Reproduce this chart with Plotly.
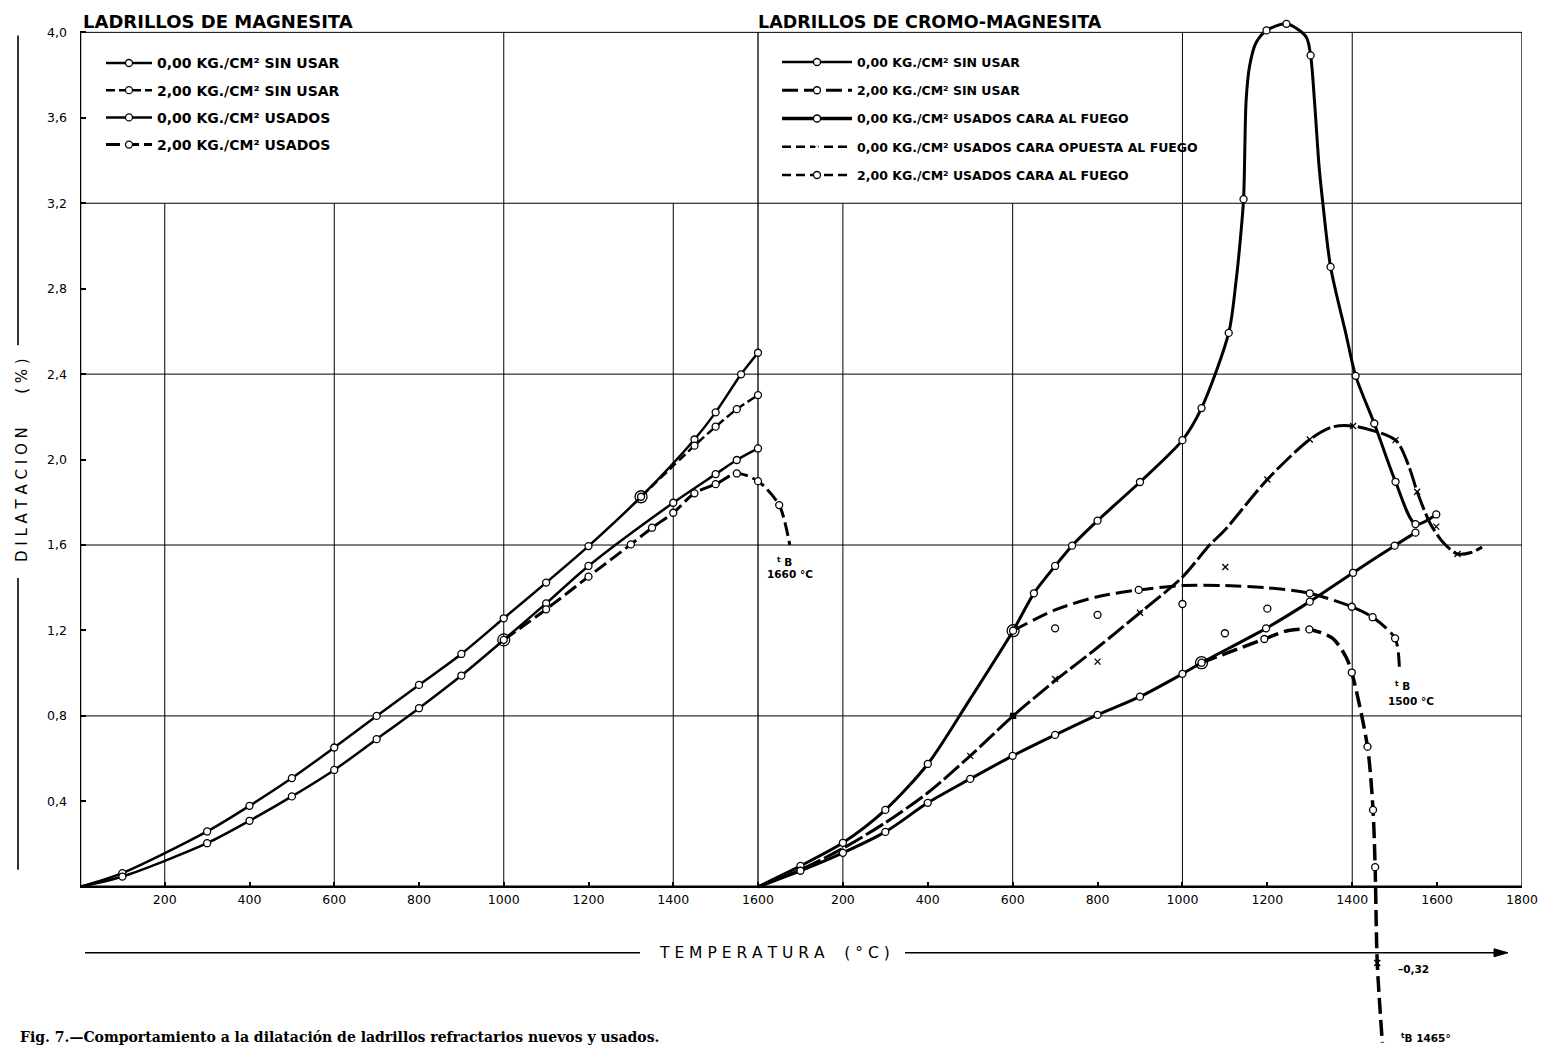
import plotly.graph_objects as go

# ================= DATA =================
# ---- Left panel: LADRILLOS DE MAGNESITA (temperature °C, dilatation %) ----
mag_sin_T = [0, 100, 300, 400, 500, 600, 700, 800, 900, 1000, 1100, 1200, 1324]
mag_sin_v = [0, 0.064, 0.259, 0.379, 0.509, 0.652, 0.80, 0.945, 1.09, 1.257, 1.424, 1.595, 1.826]
mag_sin0_T = [1450, 1500, 1560, 1600]
mag_sin0_v = [2.094, 2.221, 2.399, 2.50]
mag_sin2_T = [1450, 1500, 1550, 1600]
mag_sin2_v = [2.065, 2.154, 2.236, 2.302]
mag_us_T = [0, 100, 300, 400, 500, 600, 700, 800, 900, 1000]
mag_us_v = [0, 0.048, 0.204, 0.309, 0.423, 0.547, 0.691, 0.836, 0.989, 1.156]
mag_us0_T = [1100, 1200, 1400, 1500, 1550, 1600]
mag_us0_v = [1.327, 1.502, 1.798, 1.932, 1.998, 2.052]
mag_us2_T = [1100, 1200, 1300, 1350, 1400, 1450, 1500, 1550, 1600, 1650]
mag_us2_v = [1.299, 1.452, 1.603, 1.681, 1.751, 1.842, 1.885, 1.935, 1.899, 1.787]
mag_us2_tB_T = [1675]
mag_us2_tB_v = [1.60]

# ---- Right panel: LADRILLOS DE CROMO-MAGNESITA ----
# 0,00 kg/cm2 sin usar : measured points and drawn curve
crm_sin0_pts_T = [100, 200, 300, 400, 601, 650, 700, 740, 800, 900, 1000, 1045, 1109, 1144, 1198,
                  1245, 1302, 1349, 1408, 1452, 1502, 1549, 1598]
crm_sin0_pts_v = [0.098, 0.206, 0.36, 0.575, 1.199, 1.374, 1.502, 1.597, 1.714, 1.895, 2.091, 2.241,
                  2.593, 3.219, 4.009, 4.04, 3.892, 2.902, 2.392, 2.169, 1.896, 1.698, 1.743]
crm_sin0_crv_T = [0, 100, 200, 300, 400, 500, 601, 650, 700, 740, 800, 900, 1000, 1045, 1109, 1126,
                  1134, 1144, 1150, 1158, 1173, 1198, 1245, 1291, 1302, 1311, 1322, 1330, 1349, 1385,
                  1408, 1452, 1502, 1549, 1598]
crm_sin0_crv_v = [0, 0.098, 0.206, 0.36, 0.575, 0.88, 1.199, 1.374, 1.502, 1.597, 1.714, 1.895, 2.091,
                  2.241, 2.593, 2.83, 2.98, 3.219, 3.68, 3.84, 3.95, 4.009, 4.04, 3.98, 3.892, 3.68,
                  3.37, 3.214, 2.902, 2.59, 2.392, 2.169, 1.896, 1.698, 1.743]
# 2,00 kg/cm2 sin usar
crm_sin2_pts_T = [897, 1300, 1399, 1448, 1501]
crm_sin2_pts_v = [1.39, 1.374, 1.311, 1.262, 1.163]
crm_sin2_crv_T = [601, 700, 800, 897, 1000, 1100, 1200, 1300, 1399, 1448, 1501, 1511]
crm_sin2_crv_v = [1.199, 1.296, 1.358, 1.39, 1.41, 1.41, 1.40, 1.374, 1.311, 1.262, 1.163, 1.03]
crm_loose_T = [700, 800, 1000, 1100, 1200]
crm_loose_v = [1.21, 1.273, 1.324, 1.187, 1.302]
# 0,00 kg/cm2 usados cara al fuego
crm_us0_pts_T = [100, 200, 300, 400, 500, 600, 700, 800, 900, 1000, 1045, 1197, 1300, 1402, 1500, 1549]
crm_us0_pts_v = [0.075, 0.159, 0.257, 0.393, 0.505, 0.613, 0.711, 0.805, 0.89, 0.997, 1.049, 1.21,
                 1.335, 1.47, 1.597, 1.658]
# 0,00 kg/cm2 usados cara opuesta al fuego
crm_opp_pts_T = [500, 700, 800, 900, 1200, 1300, 1402, 1502, 1553, 1598, 1648]
crm_opp_pts_v = [0.613, 0.973, 1.054, 1.283, 1.907, 2.094, 2.157, 2.091, 1.849, 1.686, 1.558]
crm_opp_loose_T = [1101]
crm_opp_loose_v = [1.497]
crm_opp_dot_T = [601]
crm_opp_dot_v = [0.80]
crm_opp_crv_T = [0, 100, 200, 300, 400, 500, 601, 700, 800, 900, 1000, 1064, 1100, 1200, 1300, 1354,
                 1402, 1502, 1534, 1553, 1584, 1616, 1648, 1680, 1706]
crm_opp_crv_v = [0, 0.08, 0.18, 0.30, 0.44, 0.613, 0.80, 0.965, 1.12, 1.283, 1.45, 1.60, 1.67, 1.907,
                 2.094, 2.153, 2.157, 2.091, 1.966, 1.849, 1.70, 1.608, 1.558, 1.565, 1.59]
# 2,00 kg/cm2 usados cara al fuego
crm_us2_pts_T = [1193, 1299, 1399, 1436, 1449, 1454]
crm_us2_pts_v = [1.16, 1.205, 1.003, 0.656, 0.36, 0.092]
crm_us2_crv_T = [1045, 1193, 1250, 1299, 1354, 1385, 1399, 1436, 1449, 1454, 1459, 1471]
crm_us2_crv_v = [1.049, 1.16, 1.20, 1.205, 1.163, 1.077, 1.003, 0.656, 0.36, 0.092, -0.357, -0.73]
crm_us2_min_T = [1459]
crm_us2_min_v = [-0.357]

# tick labels
x_left_ticks = [200, 400, 600, 800, 1000, 1200, 1400, 1600]
x_right_ticks = [200, 400, 600, 800, 1000, 1200, 1400, 1600, 1800]
y_ticks = [0.4, 0.8, 1.2, 1.6, 2.0, 2.4, 2.8, 3.2, 3.6, 4.0]
y_ticktext = ["0,4", "0,8", "1,2", "1,6", "2,0", "2,4", "2,8", "3,2", "3,6", "4,0"]

legend_left = ["0,00 KG./CM² SIN USAR", "2,00 KG./CM² SIN USAR",
               "0,00 KG./CM² USADOS", "2,00 KG./CM² USADOS"]
legend_right = ["0,00 KG./CM² SIN USAR", "2,00 KG./CM² SIN USAR",
                "0,00 KG./CM² USADOS CARA AL FUEGO",
                "0,00 KG./CM² USADOS CARA OPUESTA AL FUEGO",
                "2,00 KG./CM² USADOS CARA AL FUEGO"]

# ================= FIGURE =================
YMIN, YMAX = -0.75, 4.1
OFF = 8                      # page body margin
W, H = 1539, 1048
ML, MR, MT, MB = 72, 25, 2.6, 8.7
PW, PH = W - ML - MR, H - MT - MB

fig = go.Figure()


def curve(xs, ys, xa, width=2.5, dash="solid"):
    fig.add_trace(go.Scatter(x=xs, y=ys, xaxis=xa, yaxis="y", mode="lines",
                             line=dict(color="black", width=width, dash=dash,
                                       shape="spline", smoothing=0.8),
                             showlegend=False, hoverinfo="skip"))


def points(xs, ys, xa, symbol="circle", size=7, color="white"):
    fig.add_trace(go.Scatter(x=xs, y=ys, xaxis=xa, yaxis="y", mode="markers",
                             marker=dict(symbol=symbol, size=size, color=color,
                                         line=dict(color="black", width=1.3)),
                             showlegend=False, hoverinfo="skip", cliponaxis=False))


DASH_A = "9px,4px"
DASH_B = "14px,5px"
DASH_C = "16px,6px"
DASH_X = "20px,4px"

# ---- left panel ----
curve(mag_sin_T + mag_sin0_T, mag_sin_v + mag_sin0_v, "x", 2.5)
curve(mag_sin_T[-1:] + mag_sin2_T, mag_sin_v[-1:] + mag_sin2_v, "x", 2.5, DASH_A)
curve(mag_us_T + mag_us0_T, mag_us_v + mag_us0_v, "x", 2.5)
curve(mag_us_T[-1:] + mag_us2_T + mag_us2_tB_T, mag_us_v[-1:] + mag_us2_v + mag_us2_tB_v, "x", 3, DASH_B)
points(mag_sin_T[1:] + mag_sin0_T + mag_sin2_T, mag_sin_v[1:] + mag_sin0_v + mag_sin2_v, "x")
points(mag_us_T[1:] + mag_us0_T + mag_us2_T, mag_us_v[1:] + mag_us0_v + mag_us2_v, "x")
points(mag_sin_T[-1:] + mag_us_T[-1:], mag_sin_v[-1:] + mag_us_v[-1:], "x", "circle-open", 12, "black")

# ---- right panel ----
curve(crm_sin0_crv_T, crm_sin0_crv_v, "x2", 3)
curve(crm_sin2_crv_T, crm_sin2_crv_v, "x2", 3, DASH_C)
curve([0] + crm_us0_pts_T, [0] + crm_us0_pts_v, "x2", 3)
curve(crm_opp_crv_T, crm_opp_crv_v, "x2", 3, DASH_X)
curve(crm_us2_crv_T, crm_us2_crv_v, "x2", 3.5, DASH_C)
points(crm_sin0_pts_T, crm_sin0_pts_v, "x2")
points(crm_sin2_pts_T + crm_loose_T, crm_sin2_pts_v + crm_loose_v, "x2")
points(crm_us0_pts_T, crm_us0_pts_v, "x2")
points(crm_us2_pts_T, crm_us2_pts_v, "x2")
points(crm_opp_pts_T + crm_opp_loose_T + crm_us2_min_T, crm_opp_pts_v + crm_opp_loose_v + crm_us2_min_v,
       "x2", "x-thin-open", 6, "black")
points(crm_opp_dot_T, crm_opp_dot_v, "x2", "square", 5, "black")
points([crm_sin0_pts_T[4], crm_us0_pts_T[10]], [crm_sin0_pts_v[4], crm_us0_pts_v[10]],
       "x2", "circle-open", 12, "black")

# ---- legend entries ----
leg_styles_left = [(2.5, "solid", "circle"), (2.5, DASH_A, "circle"),
                   (2.5, "solid", "circle"), (3, DASH_B, "circle")]
leg_styles_right = [(2.5, "solid", "circle"), (3, DASH_C, "circle"), (3.5, "solid", "circle"),
                    (2.5, "9px,5px", "x-thin-open"), (2.5, "9px,5px", "circle")]
for name, (w, d, s) in zip(legend_left, leg_styles_left):
    fig.add_trace(go.Scatter(x=[None], y=[None], mode="lines+markers", name=name, legend="legend",
                             legendgroup="L" + name,
                             line=dict(color="black", width=w, dash=d),
                             marker=dict(symbol=s, size=7, color="white",
                                         line=dict(color="black", width=1.3))))
for name, (w, d, s) in zip(legend_right, leg_styles_right):
    fig.add_trace(go.Scatter(x=[None], y=[None], xaxis="x2", mode="lines+markers", name=name,
                             legend="legend2", legendgroup="R" + name,
                             line=dict(color="black", width=w, dash=d),
                             marker=dict(symbol=s, size=7, color="white",
                                         line=dict(color="black", width=1.3))))

# ---- grid / frame shapes ----
shapes = []


def seg(xref, x0, x1, y0, y1, w=1.0):
    shapes.append(dict(type="line", xref=xref, yref="y", x0=x0, x1=x1, y0=y0, y1=y1,
                       line=dict(color="black", width=w), layer="below"))


for yv in [0.8, 1.6, 2.4, 3.2, 4.0]:
    seg("x", 0, 1600, yv, yv, 1.0)
    seg("x2", 0, 1800, yv, yv, 1.0)
for xv in [200, 600, 1400]:
    seg("x", xv, xv, 0, 3.2)
for xv in [200, 600]:
    seg("x2", xv, xv, 0, 3.2)
seg("x", 1000, 1000, 0, 4.0)
seg("x2", 1000, 1000, 0, 4.0)
seg("x2", 1400, 1400, 0, 4.0)
seg("x2", 1800, 1800, 0, 4.0, 1.3)
seg("x", 1600, 1600, 0, 4.0, 1.3)
seg("x", 0, 0, 0, 4.0, 2.5)
seg("x", 0, 1600, 0, 0, 2.5)
seg("x2", 0, 1800, 0, 0, 2.5)


def px(xv):
    return (xv - OFF - ML) / PW


def py(yv):
    return (H - MB - (yv - OFF)) / PH


def pline(x0, y0, x1, y1, w=1.6):
    shapes.append(dict(type="line", xref="paper", yref="paper", x0=x0, x1=x1, y0=y0, y1=y1,
                       line=dict(color="black", width=w)))


pline(px(85), py(953), px(640), py(953))
pline(px(905), py(953), px(1500), py(953))
shapes.append(dict(type="path", xref="paper", yref="paper",
                   path=f"M {px(1494)} {py(949)} L {px(1508)} {py(953)} L {px(1494)} {py(957)} Z",
                   fillcolor="black", line=dict(color="black", width=1)))
pline(px(18), py(35), px(18), py(345))
pline(px(18), py(578), px(18), py(870))

y0_pos = (0 - YMIN) / (YMAX - YMIN)
left_end = 0.42375 * 1800 / PW
right_start = 678 / PW

tickfont = dict(family="DejaVu Sans", size=12.5, color="black")
fig.update_layout(
    width=W, height=H,
    margin=dict(l=ML, r=MR, t=MT, b=MB, autoexpand=False),
    paper_bgcolor="white", plot_bgcolor="rgba(0,0,0,0)",
    shapes=shapes,
    xaxis=dict(domain=[0, left_end], range=[0, 1800], anchor="free", position=y0_pos,
               showgrid=False, zeroline=False, showline=False,
               tickvals=x_left_ticks, ticktext=[str(t) for t in x_left_ticks],
               ticks="inside", ticklen=5, tickwidth=1.5, tickcolor="black",
               tickfont=tickfont, ticklabelstandoff=4),
    xaxis2=dict(domain=[right_start, 1], range=[0, 1800], anchor="free", position=y0_pos,
                showgrid=False, zeroline=False, showline=False,
                tickvals=x_right_ticks, ticktext=[str(t) for t in x_right_ticks],
                ticks="inside", ticklen=5, tickwidth=1.5, tickcolor="black",
                tickfont=tickfont, ticklabelstandoff=4),
    yaxis=dict(domain=[0, 1], range=[YMIN, YMAX], anchor="x",
               showgrid=False, zeroline=False, showline=False,
               tickvals=y_ticks, ticktext=y_ticktext,
               ticks="inside", ticklen=6, tickwidth=1.5, tickcolor="black",
               tickfont=tickfont, ticklabelstandoff=12),
    legend=dict(x=px(101), y=py(47), xanchor="left", yanchor="top", bgcolor="rgba(0,0,0,0)",
                font=dict(family="DejaVu Sans", size=14, color="black", weight="bold"),
                tracegroupgap=6, itemwidth=46),
    legend2=dict(x=px(777), y=py(47), xanchor="left", yanchor="top", bgcolor="rgba(0,0,0,0)",
                 font=dict(family="DejaVu Sans", size=12.5, color="black", weight="bold"),
                 tracegroupgap=9, itemwidth=70),
    showlegend=True,
)

ann = []


def label(x, y, text, font, xanchor="center", angle=0):
    ann.append(dict(xref="paper", yref="paper", x=px(x), y=py(y), xanchor=xanchor, yanchor="middle",
                    text=text, showarrow=False, font=font, textangle=angle))


label(81, 21, "LADRILLOS DE MAGNESITA",
      dict(family="DejaVu Sans", size=18, color="black", weight="bold"), "left")
label(756, 22, "LADRILLOS DE CROMO-MAGNESITA",
      dict(family="DejaVu Sans", size=17.5, color="black", weight="bold"), "left")
label(774, 953, "T E M P E R A T U R A    ( ° C )",
      dict(family="DejaVu Sans", size=15.5, color="black"))
label(22, 460, "D I L A T A C I O N       ( % )",
      dict(family="DejaVu Sans", size=15, color="black"), angle=-90)
label(18, 1037, "Fig. 7.—Comportamiento a la dilatación de ladrillos refractarios nuevos y usados.",
      dict(family="DejaVu Serif", size=14, color="black", weight="bold"), "left")
small = dict(family="DejaVu Sans", size=10.5, color="black", weight="bold")
label(784, 561, "<sup>t</sup> B", small)
label(790, 574, "1660 °C", small)
label(1402, 686, "<sup>t</sup> B", small)
label(1411, 701, "1500 °C", small)
label(1413, 969, "–0,32", small)
label(1426, 1038, "<sup>t</sup>B 1465°", small)
fig.update_layout(annotations=ann)

fig.write_html("out.html")
